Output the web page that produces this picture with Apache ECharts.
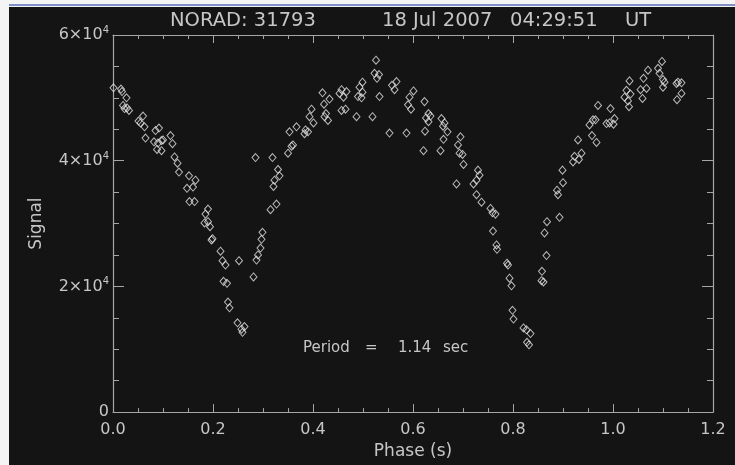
<!DOCTYPE html>
<html>
<head>
<meta charset="utf-8">
<script src="https://cdn.jsdelivr.net/npm/echarts@6/dist/echarts.min.js"></script>
<style>
html,body{margin:0;padding:0;background:#fff;}
#chart{width:735px;height:465px;}
</style>
</head>
<body>
<div id="chart"></div>
<script>
// Phase (s)
var phase = [
0.001,0.016,0.018,0.027,0.020,0.023,0.028,0.032,0.051,0.060,
0.055,0.063,0.065,0.085,0.092,0.082,0.090,0.097,0.100,0.088,
0.097,0.115,0.119,0.123,0.129,0.132,0.152,0.165,0.148,0.160,
0.153,0.163,0.190,0.185,0.183,0.190,0.194,0.199,0.197,0.215,
0.219,0.225,0.221,0.228,0.230,0.233,0.249,0.257,0.263,0.259,
0.252,0.281,0.287,0.290,0.295,0.297,0.299,0.285,0.319,0.330,
0.333,0.323,0.321,0.327,0.315,0.353,0.367,0.360,0.357,0.350,
0.385,0.383,0.390,0.397,0.393,0.401,0.419,0.422,0.433,0.426,
0.423,0.430,0.457,0.467,0.453,0.461,0.457,0.465,0.487,0.499,
0.493,0.499,0.490,0.497,0.519,0.526,0.523,0.532,0.528,0.533,
0.558,0.567,0.563,0.553,0.587,0.601,0.593,0.590,0.596,0.623,
0.631,0.626,0.635,0.631,0.624,0.621,0.655,0.657,0.663,0.660,
0.669,0.661,0.695,0.690,0.693,0.699,0.701,0.687,0.730,0.733,
0.727,0.721,0.727,0.737,0.755,0.759,0.765,0.760,0.767,0.768,
0.788,0.790,0.793,0.797,0.799,0.801,0.821,0.827,0.835,0.828,
0.832,0.857,0.861,0.858,0.867,0.863,0.868,0.893,0.890,0.888,
0.900,0.899,0.920,0.923,0.932,0.937,0.930,0.958,0.967,0.953,
0.960,0.965,0.970,0.987,0.993,1.001,1.003,0.995,1.027,1.023,
1.030,1.032,1.035,1.033,1.055,1.059,1.067,1.061,1.070,1.090,
1.093,1.100,1.103,1.100,1.098,1.127,1.130,1.137,1.137,1.128
];
// Signal
var signal = [
51600,51400,51000,50000,48800,48300,48400,48000,46300,47100,
46000,45400,43600,44800,45200,43000,42800,43200,43300,41800,
41600,44000,42700,40600,39600,38200,37600,36900,35600,35800,
33500,33500,32300,31500,30100,30300,29500,27600,27400,25600,
24100,23400,20800,20500,17500,16600,14200,13200,13600,12700,
24100,21500,24200,25000,26100,27500,28600,40500,40500,38600,
37600,36900,35900,33100,32200,44600,45400,42500,42300,41200,
44900,44300,44600,48200,47000,46000,50800,49000,49800,47500,
47000,46400,51300,51000,50700,50100,48000,48200,47000,52500,
51700,50900,50200,50000,47000,56000,53900,53700,53100,50200,
52000,52600,51300,44400,44400,51100,50100,48900,48200,49400,
47500,46800,47100,46200,44700,41600,41600,46700,46000,45500,
44600,43400,43800,42500,41200,41000,39400,36300,38500,37700,
36900,36300,34600,33400,32400,31700,31500,28800,26600,25900,
23700,23400,21300,20100,16200,14800,13400,13100,12500,11100,
10700,20900,20700,22400,24900,28500,30300,31000,34600,35300,
36500,38500,39800,40700,40200,41200,43300,44000,42900,45700,
46500,46500,48800,45900,46000,45800,46700,48300,51200,50100,
49500,48600,50600,52700,51300,49900,51500,53100,54400,54700,
53900,52900,52500,51700,55800,52300,52500,52400,50700,49700
];
var xTicks = [0, 0.2, 0.4, 0.6, 0.8, 1.0, 1.2];
var yTicks = [0, 20000, 40000, 60000];
var titleParts = ['NORAD: 31793', '18 Jul 2007', '04:29:51', 'UT'];
var periodParts = ['Period', '=', '1.14', 'sec'];
var xName = 'Phase (s)';
var yName = 'Signal';

var points = phase.map(function(p, i){ return [p, signal[i]]; });

var fg = '#c6c6c6';
var axisCol = '#a6a6a6';
var font = 'DejaVu Sans';

function yFmt(v){
  if (v === 0) return '{a|0}';
  return '{a|' + (v/10000) + '×10}{s|4}';
}
function xFmt(v){ return v.toFixed(1); }

var titleX = [170, 382, 510, 625];
var periodX = [303, 365, 398, 443];
var graphics = [
  {type:'rect', left:0, top:0, shape:{width:735, height:7}, style:{fill:'#f4f4f4'}, silent:true},
  {type:'rect', left:9, top:4, shape:{width:726, height:2}, style:{fill:'#7f8fc8'}, silent:true},
  {type:'rect', left:0, top:0, shape:{width:9, height:465}, style:{fill:'#f4f4f4'}, silent:true}
];
titleParts.forEach(function(t, i){
  graphics.push({type:'text', left:titleX[i], top:11, style:{text:t, fill:fg, font:'19.5px "DejaVu Sans"'}, silent:true});
});
periodParts.forEach(function(t, i){
  graphics.push({type:'text', left:periodX[i], top:341, style:{text:t, fill:fg, font:'15px "DejaVu Sans"'}, silent:true});
});

var chart = echarts.init(document.getElementById('chart'), null, {renderer:'canvas'});
var common = {
  min: 0,
  axisLine: {show:true, onZero:false, lineStyle:{color:axisCol, width:1.2}},
  splitLine: {show:false},
  minorSplitLine: {show:false}
};
chart.setOption({
  backgroundColor: '#141414',
  animation: false,
  textStyle: {fontFamily: font},
  graphic: graphics,
  grid: {left:113, top:35, width:600, height:378},
  xAxis: [
    Object.assign({}, common, {
      type:'value', position:'bottom', max:1.2, interval:0.2,
      axisTick:{show:true, inside:true, length:8, lineStyle:{color:axisCol}},
      minorTick:{show:true, splitNumber:4, length:4, lineStyle:{color:axisCol}},
      axisLabel:{color:fg, fontSize:16, margin:10, formatter:xFmt},
      name: xName, nameLocation:'middle', nameGap:24,
      nameTextStyle:{color:fg, fontSize:17}
    }),
    Object.assign({}, common, {
      type:'value', position:'top', max:1.2, interval:0.2,
      axisTick:{show:true, inside:true, length:8, lineStyle:{color:axisCol}},
      minorTick:{show:true, splitNumber:4, length:4, lineStyle:{color:axisCol}},
      axisLabel:{show:false}
    })
  ],
  yAxis: [
    Object.assign({}, common, {
      type:'value', position:'left', max:60000, interval:20000,
      axisTick:{show:true, inside:true, length:11, lineStyle:{color:axisCol}},
      minorTick:{show:true, splitNumber:4, length:6, lineStyle:{color:axisCol}},
      axisLabel:{color:fg, margin:4, formatter:yFmt,
        rich:{a:{color:fg, fontSize:16, fontFamily:font}, s:{color:fg, fontSize:10, fontFamily:font, verticalAlign:'top', padding:[0,0,9,0]}}},
      name: yName, nameLocation:'middle', nameGap:68,
      nameTextStyle:{color:fg, fontSize:17}
    }),
    Object.assign({}, common, {
      type:'value', position:'right', max:60000, interval:20000,
      axisTick:{show:true, inside:true, length:11, lineStyle:{color:axisCol}},
      minorTick:{show:true, splitNumber:4, length:6, lineStyle:{color:axisCol}},
      axisLabel:{show:false}
    })
  ],
  series: [{
    type:'scatter',
    xAxisIndex:0, yAxisIndex:0,
    data: points,
    symbol:'diamond',
    symbolSize:[7,8],
    itemStyle:{color:'rgba(0,0,0,0)', borderColor:'#e2e2e2', borderWidth:1},
    emphasis:{disabled:true}
  }]
});
</script>
</body>
</html>
